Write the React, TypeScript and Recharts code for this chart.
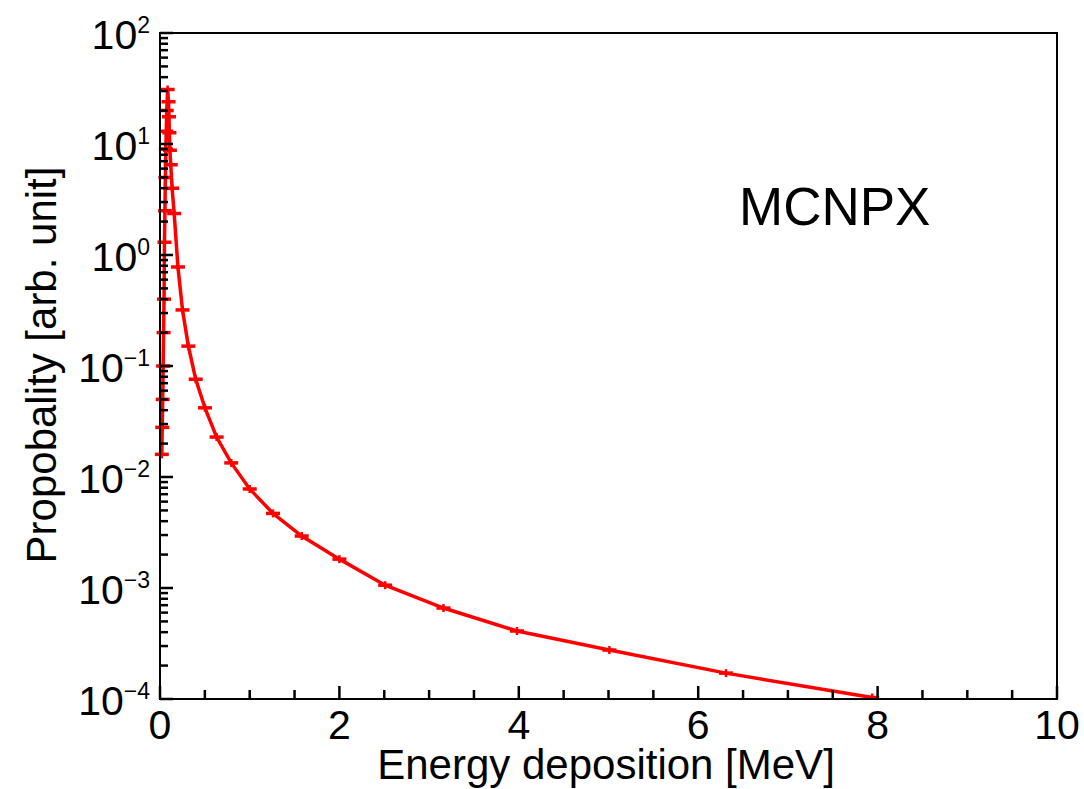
import { LineChart, Line, XAxis, YAxis, Label } from "recharts"

// energy deposition [MeV] and probability [arb. unit]
const energy = [
  0.02, 0.025, 0.03, 0.035, 0.04, 0.045, 0.05, 0.055, 0.06, 0.065, 0.07, 0.075, 0.085,
  0.095, 0.1, 0.105, 0.11, 0.12, 0.135, 0.158, 0.2, 0.251, 0.316, 0.398, 0.501, 0.631,
  0.794, 1.0, 1.26, 1.58, 2.0, 2.51, 3.16, 3.98, 5.01, 6.31, 7.94,
]
const probability = [
  0.016, 0.028, 0.05, 0.1, 0.2, 0.4, 1.3, 2.5, 5, 9, 13, 20, 31,
  24, 17.6, 12.6, 8.8, 6.5, 4, 2.36, 0.78, 0.32, 0.151, 0.076, 0.042, 0.0229,
  0.0134, 0.0078, 0.0047, 0.00294, 0.00182, 0.00106, 0.00066, 0.00041, 0.000276, 0.000171, 0.000103,
]

const xTicks = [0, 0.5, 1, 1.5, 2, 2.5, 3, 3.5, 4, 4.5, 5, 5.5, 6, 6.5, 7, 7.5, 8, 8.5, 9, 9.5, 10]
const xLabels = [0, 2, 4, 6, 8, 10]
const yDecades = [-4, -3, -2, -1, 0, 1, 2]
const yMinor = [2, 3, 4, 5, 6, 7, 8, 9]

const data = energy.map((e, i) => ({ e, p: probability[i] }))
const yTicks = yDecades.flatMap((d) =>
  d === 2 ? [Math.pow(10, d)] : [Math.pow(10, d), ...yMinor.map((m) => m * Math.pow(10, d))]
)

const FONT = "Liberation Sans, Arial, Helvetica, sans-serif"
const PLOT_LEFT = 160
const PLOT_BOTTOM = 699

function YTick(props: any) {
  const { y, payload } = props
  const lg = Math.log10(payload.value)
  const exp = Math.round(lg)
  const major = Math.abs(lg - exp) < 1e-6
  return (
    <g>
      <line x1={PLOT_LEFT} x2={PLOT_LEFT + (major ? 13 : 8)} y1={y} y2={y} stroke="#000" strokeWidth={2.5} />
      {major && (
        <text x={150} y={y + 16} textAnchor="end" fontSize={41} fontFamily={FONT} fill="#000">
          <tspan>10</tspan>
          <tspan dy={-16} fontSize={23}>{exp < 0 ? `\u2212${-exp}` : `${exp}`}</tspan>
        </text>
      )}
    </g>
  )
}

function XTick(props: any) {
  const { x, payload } = props
  const v = payload.value
  const major = xLabels.includes(v)
  return (
    <g>
      <line x1={x} x2={x} y1={PLOT_BOTTOM} y2={PLOT_BOTTOM - (major ? 13 : 9)} stroke="#000" strokeWidth={2.5} />
      {major && (
        <text x={x} y={739} textAnchor="middle" fontSize={41} fontFamily={FONT} fill="#000">
          {v}
        </text>
      )}
    </g>
  )
}

function Marker(props: any) {
  const { cx, cy } = props
  if (cx == null || cy == null) return null
  return (
    <g>
      <line x1={cx - 7} x2={cx + 7} y1={cy} y2={cy} stroke="#ff0000" strokeWidth={3.5} />
      <line x1={cx} x2={cx} y1={cy - 4} y2={cy + 4} stroke="#ff0000" strokeWidth={2.5} />
    </g>
  )
}

export default function App() {
  return (
    <div style={{ position: "absolute", left: 0, top: 0, width: 1084, height: 789, background: "#fff" }}>
      <LineChart width={1084} height={789} data={data} margin={{ top: 33, right: 27, bottom: 0, left: 0 }}>
        <XAxis
          dataKey="e"
          type="number"
          domain={[0, 10]}
          ticks={xTicks}
          interval={0}
          height={90}
          axisLine={false}
          tickLine={false}
          tick={<XTick />}
        >
          <Label
            content={() => (
              <text x={606} y={779} textAnchor="middle" fontSize={42} fontFamily={FONT} fill="#000">
                Energy deposition [MeV]
              </text>
            )}
          />
        </XAxis>
        <YAxis
          dataKey="p"
          scale="log"
          domain={[1e-4, 100]}
          allowDataOverflow
          ticks={yTicks}
          interval={0}
          width={160}
          axisLine={false}
          tickLine={false}
          tick={<YTick />}
        >
          <Label
            content={() => (
              <text
                x={56}
                y={365}
                transform="rotate(-90 56 365)"
                textAnchor="middle"
                fontSize={42}
                fontFamily={FONT}
                fill="#000"
              >
                Propobality [arb. unit]
              </text>
            )}
          />
        </YAxis>
        <Line
          type="linear"
          dataKey="p"
          stroke="#ff0000"
          strokeWidth={3.5}
          dot={<Marker />}
          activeDot={false}
          isAnimationActive={false}
        />
      </LineChart>
      <div
        style={{
          position: "absolute",
          left: 159,
          top: 32,
          width: 899,
          height: 668,
          boxSizing: "border-box",
          border: "2px solid #000",
          pointerEvents: "none",
        }}
      />
      <div
        style={{
          position: "absolute",
          left: 739,
          top: 180,
          fontSize: 53,
          lineHeight: "53px",
          fontFamily: FONT,
          color: "#000",
          whiteSpace: "nowrap",
        }}
      >
        MCNPX
      </div>
    </div>
  )
}
